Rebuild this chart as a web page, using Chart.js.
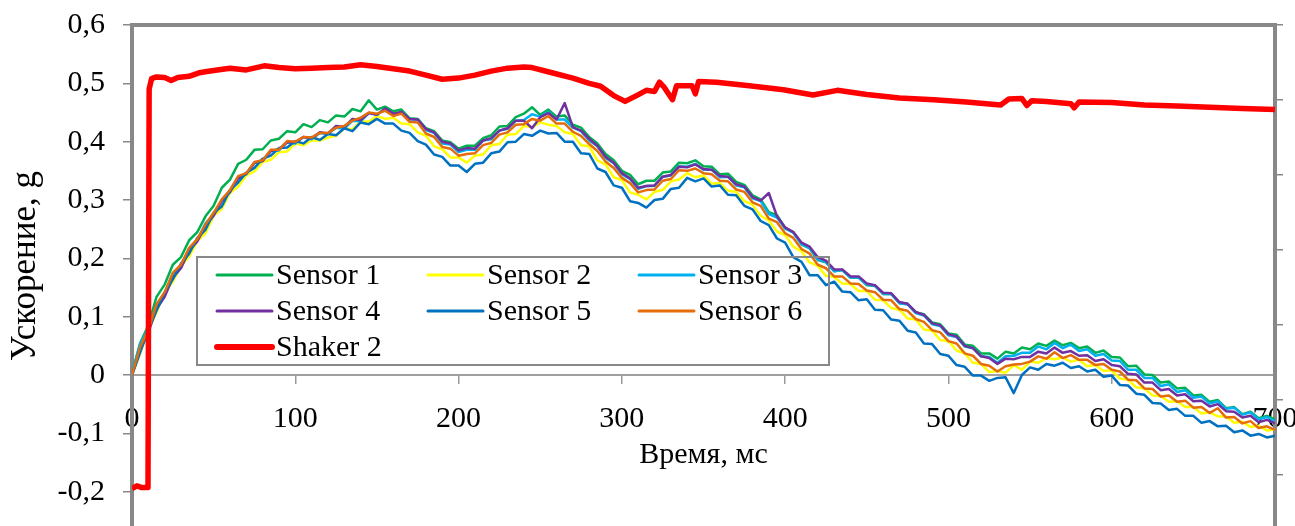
<!DOCTYPE html>
<html>
<head>
<meta charset="utf-8">
<script src="https://cdn.jsdelivr.net/npm/chart.js@4.4.1/dist/chart.umd.min.js"></script>
<style>
  html, body { margin: 0; padding: 0; background: #fff; overflow: hidden; }
  #wrap { width: 1295px; height: 560px; }
</style>
</head>
<body>
<div id="wrap"><canvas id="accChart" width="1295" height="560"></canvas></div>
<script>
// sample times of the sensor records, ms
const timeMs = [
  0, 5, 10, 15, 20, 25, 30, 35, 40, 45,
  50, 55, 60, 65, 70, 75, 80, 85, 90, 95,
  100, 105, 110, 115, 120, 125, 130, 135, 140, 145,
  150, 155, 160, 165, 170, 175, 180, 185, 190, 195,
  200, 205, 210, 215, 220, 225, 230, 235, 240, 245,
  250, 255, 260, 265, 270, 275, 280, 285, 290, 295,
  300, 305, 310, 315, 320, 325, 330, 335, 340, 345,
  350, 355, 360, 365, 370, 375, 380, 385, 390, 395,
  400, 405, 410, 415, 420, 425, 430, 435, 440, 445,
  450, 455, 460, 465, 470, 475, 480, 485, 490, 495,
  500, 505, 510, 515, 520, 525, 530, 535, 540, 545,
  550, 555, 560, 565, 570, 575, 580, 585, 590, 595,
  600, 605, 610, 615, 620, 625, 630, 635, 640, 645,
  650, 655, 660, 665, 670, 675, 680, 685, 690, 695,
  700
];

const sensor1 = [
  0.003, 0.055, 0.085, 0.134, 0.155, 0.189, 0.202, 0.231, 0.245, 0.272,
  0.290, 0.321, 0.335, 0.362, 0.369, 0.386, 0.387, 0.402, 0.405, 0.418,
  0.416, 0.430, 0.425, 0.437, 0.433, 0.445, 0.443, 0.456, 0.452, 0.471,
  0.455, 0.460, 0.452, 0.455, 0.440, 0.439, 0.423, 0.418, 0.402, 0.399,
  0.388, 0.393, 0.393, 0.406, 0.411, 0.426, 0.427, 0.442, 0.448, 0.459,
  0.446, 0.455, 0.443, 0.445, 0.429, 0.424, 0.408, 0.397, 0.379, 0.368,
  0.350, 0.343, 0.327, 0.333, 0.333, 0.347, 0.349, 0.364, 0.363, 0.368,
  0.358, 0.357, 0.344, 0.345, 0.331, 0.326, 0.308, 0.301, 0.279, 0.274,
  0.252, 0.245, 0.224, 0.217, 0.197, 0.193, 0.178, 0.180, 0.167, 0.167,
  0.154, 0.153, 0.139, 0.139, 0.123, 0.122, 0.107, 0.104, 0.090, 0.087,
  0.071, 0.069, 0.052, 0.050, 0.037, 0.037, 0.028, 0.040, 0.037, 0.047,
  0.044, 0.054, 0.050, 0.059, 0.051, 0.055, 0.046, 0.049, 0.038, 0.042,
  0.031, 0.030, 0.015, 0.016, 0.001, 0.000, -0.013, -0.011, -0.023, -0.022,
  -0.035, -0.034, -0.046, -0.043, -0.057, -0.055, -0.067, -0.063, -0.074, -0.070,
  -0.076
];

const sensor2 = [
  0.000, 0.037, 0.077, 0.107, 0.141, 0.160, 0.187, 0.203, 0.230, 0.243,
  0.273, 0.285, 0.312, 0.323, 0.342, 0.349, 0.365, 0.369, 0.382, 0.383,
  0.397, 0.394, 0.402, 0.402, 0.407, 0.410, 0.423, 0.421, 0.435, 0.434,
  0.444, 0.439, 0.441, 0.431, 0.430, 0.416, 0.410, 0.392, 0.387, 0.373,
  0.373, 0.364, 0.376, 0.378, 0.394, 0.396, 0.412, 0.413, 0.427, 0.425,
  0.433, 0.429, 0.427, 0.416, 0.413, 0.394, 0.392, 0.368, 0.361, 0.339,
  0.334, 0.313, 0.309, 0.301, 0.314, 0.317, 0.332, 0.335, 0.346, 0.339,
  0.342, 0.328, 0.329, 0.316, 0.314, 0.298, 0.292, 0.273, 0.265, 0.246,
  0.240, 0.220, 0.212, 0.193, 0.187, 0.170, 0.168, 0.157, 0.156, 0.144,
  0.144, 0.129, 0.128, 0.115, 0.112, 0.097, 0.095, 0.078, 0.076, 0.060,
  0.058, 0.042, 0.037, 0.021, 0.019, 0.005, 0.007, 0.004, 0.017, 0.009,
  0.023, 0.021, 0.029, 0.027, 0.030, 0.023, 0.026, 0.015, 0.017, 0.007,
  0.008, -0.006, -0.008, -0.021, -0.023, -0.035, -0.036, -0.046, -0.045, -0.055,
  -0.055, -0.066, -0.064, -0.071, -0.071, -0.082, -0.080, -0.089, -0.087, -0.095,
  -0.093
];

const sensor3 = [
  0.004, 0.053, 0.080, 0.120, 0.140, 0.174, 0.187, 0.217, 0.231, 0.260,
  0.275, 0.300, 0.313, 0.339, 0.344, 0.364, 0.367, 0.384, 0.385, 0.399,
  0.397, 0.408, 0.404, 0.415, 0.413, 0.424, 0.422, 0.436, 0.435, 0.449,
  0.446, 0.456, 0.447, 0.451, 0.438, 0.438, 0.420, 0.415, 0.397, 0.395,
  0.382, 0.386, 0.386, 0.402, 0.404, 0.419, 0.422, 0.436, 0.437, 0.447,
  0.443, 0.451, 0.438, 0.438, 0.424, 0.418, 0.402, 0.392, 0.372, 0.363,
  0.344, 0.336, 0.319, 0.324, 0.324, 0.340, 0.342, 0.358, 0.357, 0.362,
  0.352, 0.352, 0.339, 0.340, 0.325, 0.322, 0.303, 0.298, 0.276, 0.270,
  0.251, 0.244, 0.224, 0.218, 0.198, 0.194, 0.178, 0.180, 0.167, 0.167,
  0.155, 0.153, 0.139, 0.139, 0.123, 0.121, 0.106, 0.102, 0.087, 0.084,
  0.068, 0.065, 0.049, 0.046, 0.032, 0.031, 0.021, 0.032, 0.033, 0.038,
  0.038, 0.049, 0.044, 0.055, 0.046, 0.052, 0.041, 0.044, 0.033, 0.036,
  0.025, 0.024, 0.009, 0.009, -0.005, -0.005, -0.019, -0.016, -0.029, -0.026,
  -0.039, -0.037, -0.049, -0.045, -0.058, -0.056, -0.068, -0.064, -0.076, -0.072,
  -0.079
];

const sensor4 = [
  0.000, 0.043, 0.073, 0.113, 0.134, 0.167, 0.183, 0.213, 0.229, 0.256,
  0.273, 0.299, 0.314, 0.337, 0.345, 0.364, 0.367, 0.384, 0.387, 0.399,
  0.399, 0.408, 0.406, 0.416, 0.414, 0.427, 0.425, 0.439, 0.437, 0.449,
  0.446, 0.457, 0.448, 0.451, 0.439, 0.438, 0.422, 0.416, 0.400, 0.397,
  0.385, 0.389, 0.388, 0.402, 0.406, 0.419, 0.423, 0.436, 0.436, 0.423,
  0.442, 0.449, 0.438, 0.466, 0.425, 0.419, 0.405, 0.393, 0.374, 0.364,
  0.346, 0.337, 0.321, 0.324, 0.325, 0.340, 0.343, 0.357, 0.356, 0.361,
  0.353, 0.352, 0.341, 0.340, 0.327, 0.323, 0.305, 0.299, 0.312, 0.272,
  0.253, 0.245, 0.227, 0.220, 0.202, 0.196, 0.181, 0.181, 0.169, 0.169,
  0.157, 0.154, 0.141, 0.140, 0.125, 0.122, 0.108, 0.103, 0.089, 0.085,
  0.070, 0.066, 0.050, 0.046, 0.032, 0.029, 0.019, 0.028, 0.027, 0.031,
  0.031, 0.040, 0.037, 0.047, 0.038, 0.041, 0.033, 0.034, 0.024, 0.027,
  0.017, 0.015, 0.002, 0.001, -0.013, -0.013, -0.026, -0.024, -0.035, -0.033,
  -0.045, -0.044, -0.054, -0.050, -0.062, -0.063, -0.073, -0.070, -0.081, -0.077,
  -0.083
];

const sensor5 = [
  0.000, 0.039, 0.078, 0.110, 0.142, 0.164, 0.191, 0.208, 0.235, 0.249,
  0.278, 0.289, 0.317, 0.330, 0.347, 0.355, 0.371, 0.376, 0.389, 0.390,
  0.401, 0.397, 0.408, 0.403, 0.413, 0.411, 0.423, 0.418, 0.433, 0.430,
  0.439, 0.431, 0.431, 0.419, 0.415, 0.401, 0.395, 0.378, 0.374, 0.359,
  0.359, 0.348, 0.362, 0.364, 0.380, 0.383, 0.399, 0.400, 0.413, 0.410,
  0.419, 0.414, 0.415, 0.400, 0.400, 0.380, 0.379, 0.354, 0.348, 0.325,
  0.321, 0.298, 0.295, 0.287, 0.300, 0.302, 0.319, 0.321, 0.338, 0.332,
  0.337, 0.323, 0.325, 0.309, 0.308, 0.290, 0.284, 0.264, 0.257, 0.234,
  0.227, 0.202, 0.194, 0.171, 0.171, 0.154, 0.160, 0.143, 0.142, 0.128,
  0.130, 0.112, 0.111, 0.095, 0.093, 0.076, 0.073, 0.054, 0.053, 0.036,
  0.033, 0.017, 0.014, -0.001, -0.001, -0.010, -0.005, -0.004, -0.031, 0.000,
  0.013, 0.009, 0.019, 0.016, 0.021, 0.012, 0.015, 0.006, 0.009, -0.003,
  -0.001, -0.017, -0.018, -0.032, -0.034, -0.048, -0.049, -0.060, -0.058, -0.070,
  -0.070, -0.082, -0.079, -0.088, -0.087, -0.098, -0.095, -0.104, -0.101, -0.107,
  -0.104
];

const sensor6 = [
  0.000, 0.048, 0.077, 0.121, 0.142, 0.175, 0.189, 0.218, 0.233, 0.258,
  0.278, 0.301, 0.317, 0.341, 0.346, 0.365, 0.368, 0.386, 0.386, 0.401,
  0.400, 0.408, 0.407, 0.415, 0.415, 0.424, 0.427, 0.436, 0.441, 0.450,
  0.448, 0.453, 0.444, 0.448, 0.434, 0.433, 0.414, 0.408, 0.391, 0.388,
  0.376, 0.379, 0.380, 0.394, 0.398, 0.412, 0.416, 0.429, 0.430, 0.439,
  0.436, 0.444, 0.431, 0.431, 0.417, 0.410, 0.396, 0.384, 0.366, 0.355,
  0.338, 0.329, 0.313, 0.317, 0.318, 0.333, 0.336, 0.351, 0.350, 0.354,
  0.346, 0.344, 0.333, 0.332, 0.318, 0.314, 0.296, 0.290, 0.268, 0.262,
  0.243, 0.235, 0.216, 0.208, 0.189, 0.183, 0.169, 0.169, 0.157, 0.156,
  0.145, 0.142, 0.129, 0.128, 0.113, 0.110, 0.096, 0.091, 0.077, 0.073,
  0.058, 0.054, 0.037, 0.033, 0.019, 0.016, 0.006, 0.015, 0.018, 0.019,
  0.023, 0.032, 0.028, 0.039, 0.029, 0.034, 0.026, 0.026, 0.017, 0.019,
  0.009, 0.006, -0.008, -0.009, -0.023, -0.024, -0.037, -0.035, -0.046, -0.044,
  -0.056, -0.055, -0.065, -0.057, -0.073, -0.072, -0.083, -0.079, -0.091, -0.088,
  -0.094
];

// shaker record has its own (irregular) time points
const shakerTime = [
  0, 3, 6, 9.8, 10.5, 12, 15, 20, 24, 28, 35, 41, 50, 60, 70, 81, 90, 100,
  110, 120, 130, 140, 150, 160, 170, 180, 190, 200, 210, 220, 230, 240, 245,
  256, 270, 280, 287, 295, 302, 309, 315, 320, 323, 326, 331, 333.5, 343, 345,
  347, 358, 378, 399, 417, 432, 450, 470, 491, 511, 532, 537, 545, 548, 551,
  560, 575, 577, 580, 600, 620, 640, 660, 680, 700
];
const shaker2 = [
  -0.195, -0.190, -0.193, -0.193, 0.490, 0.508, 0.511, 0.510, 0.505, 0.510,
  0.512, 0.518, 0.522, 0.526, 0.523, 0.530, 0.527, 0.525, 0.526, 0.527,
  0.528, 0.532, 0.529, 0.525, 0.521, 0.514, 0.507, 0.509, 0.514, 0.521,
  0.526, 0.528, 0.527, 0.519, 0.509, 0.500, 0.495, 0.479, 0.469, 0.479,
  0.488, 0.486, 0.502, 0.493, 0.472, 0.496, 0.496, 0.482, 0.503, 0.502,
  0.496, 0.489, 0.480, 0.488, 0.481, 0.475, 0.472, 0.468, 0.463, 0.473,
  0.474, 0.462, 0.470, 0.469, 0.465, 0.458, 0.468, 0.467, 0.463, 0.461,
  0.459, 0.457, 0.455
];

const seriesNames = ['Sensor 1', 'Sensor 2', 'Sensor 3', 'Sensor 4', 'Sensor 5', 'Sensor 6', 'Shaker 2'];
const seriesColors = ['#00B050', '#FFFF00', '#00B0F0', '#7030A0', '#0070C0', '#E46C0A', '#FF0000'];
const sensorValues = [sensor1, sensor2, sensor3, sensor4, sensor5, sensor6];

const FONT = "'Liberation Serif', 'Times New Roman', serif";
const AXIS_GRAY = '#888888';

const datasets = sensorValues.map((vals, i) => ({
  label: seriesNames[i],
  data: vals,
  borderColor: seriesColors[i],
  borderWidth: 2.5,
  order: 6 - i
}));
datasets.push({
  label: seriesNames[6],
  data: shakerTime.map((t, i) => ({ x: t, y: shaker2[i] })),
  borderColor: seriesColors[6],
  borderWidth: 5.5,
  order: 0
});

// Excel-style legend box inside the plot area, plus the rotated y title
const boxLegend = {
  id: 'boxLegend',
  afterDatasetsDraw(chart, args, opts) {
    const { ctx, chartArea } = chart;
    const x0 = chartArea.left + opts.left;
    const y0 = chartArea.top + opts.top;
    ctx.save();
    ctx.strokeStyle = opts.borderColor;
    ctx.lineWidth = opts.borderWidth;
    ctx.strokeRect(x0, y0, opts.width, opts.height);
    ctx.font = opts.font;
    ctx.fillStyle = '#000';
    ctx.textBaseline = 'middle';
    chart.data.datasets.forEach((ds, i) => {
      const lx = x0 + opts.padX + (i % 3) * opts.colW;
      const ly = y0 + opts.padY + Math.floor(i / 3) * opts.rowH;
      ctx.strokeStyle = ds.borderColor;
      ctx.lineWidth = ds.borderWidth + 0.5;
      ctx.lineCap = 'round';
      ctx.beginPath();
      ctx.moveTo(lx, ly);
      ctx.lineTo(lx + opts.lineLen, ly);
      ctx.stroke();
      ctx.fillText(ds.label, lx + opts.lineLen + opts.gap, ly + 1);
    });

    // y axis title, centred a bit above the plot middle like the original
    const yt = opts.yTitle;
    ctx.translate(yt.x, chartArea.top + yt.offsetY);
    ctx.rotate(-Math.PI / 2);
    ctx.font = yt.font;
    ctx.textAlign = 'center';
    ctx.fillText(yt.text, 0, 0);
    ctx.restore();
  }
};

new Chart(document.getElementById('accChart'), {
  type: 'line',
  data: { labels: timeMs, datasets },
  plugins: [boxLegend],
  options: {
    responsive: false,
    devicePixelRatio: 1,
    animation: false,
    events: [],
    layout: { padding: { top: 25, left: 0, right: 0, bottom: 10 } },
    elements: {
      point: { radius: 0 },
      line: { tension: 0, fill: false, borderJoinStyle: 'round' }
    },
    scales: {
      x: {
        type: 'linear',
        position: { y: 0 },
        min: 0, max: 700,
        ticks: { stepSize: 100, color: '#000', font: { family: FONT, size: 30 }, padding: 18, maxRotation: 0, autoSkip: false },
        grid: { drawOnChartArea: false, tickLength: 8, color: '#999999', lineWidth: 1.5 },
        border: { color: '#a0a0a0', width: 2 },
        title: { display: true, text: 'Время, мс', color: '#000', font: { family: FONT, size: 30 }, padding: { top: 0, bottom: 4 } },
        afterFit(scale) {
          scale.height = 102;
          scale.paddingLeft = 0; scale.paddingRight = 0;
          scale.paddingTop = 0; scale.paddingBottom = 0;
        }
      },
      xTop: {
        type: 'linear',
        position: 'top',
        ticks: { display: false },
        grid: { drawOnChartArea: false, drawTicks: false },
        border: { color: AXIS_GRAY, width: 4 },
        afterFit(scale) {
          scale.height = 0;
          scale.paddingLeft = 0; scale.paddingRight = 0;
          scale.paddingTop = 0; scale.paddingBottom = 0;
        }
      },
      y: {
        type: 'linear',
        position: 'left',
        min: -0.3, max: 0.6,
        ticks: {
          stepSize: 0.1, color: '#000', padding: 18,
          font: { family: FONT, size: 30 },
          callback: (v) => Math.abs(v) < 1e-9 ? '0' : v.toFixed(1).replace('.', ',')
        },
        grid: { drawOnChartArea: false, tickLength: 9, color: AXIS_GRAY, lineWidth: 1.5 },
        border: { color: AXIS_GRAY, width: 4 },
        afterFit(scale) {
          scale.width = 132;
          scale.paddingTop = 0; scale.paddingBottom = 0;
        }
      },
      yRight: {
        type: 'linear',
        position: 'right',
        min: 0, max: 7,
        ticks: { stepSize: 1, display: false },
        grid: { drawOnChartArea: false, tickLength: 8, color: AXIS_GRAY, lineWidth: 1.5 },
        border: { color: AXIS_GRAY, width: 4 },
        afterFit(scale) {
          scale.width = 20;
          scale.paddingTop = 0; scale.paddingBottom = 0;
        }
      }
    },
    plugins: {
      legend: { display: false },
      tooltip: { enabled: false },
      boxLegend: {
        left: 65, top: 232, width: 632, height: 108,
        padX: 20, padY: 18, colW: 211, rowH: 36,
        lineLen: 55, gap: 4,
        borderColor: AXIS_GRAY, borderWidth: 2,
        font: "30px " + FONT,
        yTitle: { text: 'Ускорение, g', x: 26, offsetY: 241, font: "35px " + FONT }
      }
    }
  }
});
</script>
</body>
</html>
